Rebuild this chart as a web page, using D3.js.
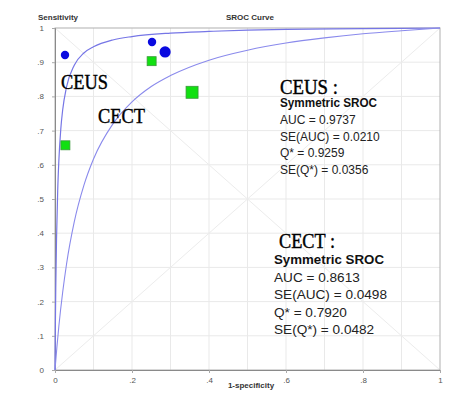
<!DOCTYPE html>
<html>
<head>
<meta charset="utf-8">
<script src="https://cdn.jsdelivr.net/npm/d3@7.9.0/dist/d3.min.js"></script>
<style>
  body { margin: 0; background: #fff; }
  svg { display: block; font-family: Arial, "Liberation Sans", sans-serif; }
</style>
</head>
<body>
<svg id="chart" width="469" height="396"></svg>
<script>
// study points (1-specificity, sensitivity, relative weight)
const ceusFpr = [0.026, 0.252, 0.286];
const ceusSens = [0.921, 0.959, 0.930];
const ceusWeight = [1, 1, 2];

const cectFpr = [0.027, 0.251, 0.356];
const cectSens = [0.657, 0.903, 0.812];
const cectWeight = [1, 1, 1.6];

// SROC curves
const ceusCurveX = [0, 0.001, 0.002, 0.004, 0.007, 0.01, 0.015, 0.02, 0.03, 0.05, 0.075, 0.1, 0.15, 0.2, 0.3, 0.4, 0.5, 0.6, 0.8, 1];
const ceusCurveY = [0, 0.135, 0.238, 0.385, 0.524, 0.612, 0.704, 0.761, 0.828, 0.891, 0.927, 0.945, 0.965, 0.975, 0.985, 0.990, 0.994, 0.996, 0.998, 1];
const cectCurveX = [0, 0.001, 0.005, 0.01, 0.02, 0.03, 0.05, 0.075, 0.1, 0.15, 0.2, 0.25, 0.3, 0.4, 0.5, 0.6, 0.7, 0.8, 0.9, 1];
const cectCurveY = [0, 0.014, 0.068, 0.128, 0.228, 0.310, 0.433, 0.540, 0.617, 0.719, 0.784, 0.829, 0.861, 0.906, 0.935, 0.956, 0.971, 0.983, 0.992, 1];

const yTicks = [0, 0.1, 0.2, 0.3, 0.4, 0.5, 0.6, 0.7, 0.8, 0.9, 1];
const yTickLabels = ['0', '.1', '.2', '.3', '.4', '.5', '.6', '.7', '.8', '.9', '1'];
const xTicks = [0, 0.2, 0.4, 0.6, 0.8, 1];
const xTickLabels = ['0', '.2', '.4', '.6', '.8', '1'];
const gridVals = [0.1, 0.2, 0.3, 0.4, 0.5, 0.6, 0.7, 0.8, 0.9];

const ceusStats = ['Symmetric SROC', 'AUC = 0.9737', 'SE(AUC) = 0.0210', 'Q* = 0.9259', 'SE(Q*) = 0.0356'];
const cectStats = ['Symmetric SROC', 'AUC = 0.8613', 'SE(AUC) = 0.0498', 'Q* = 0.7920', 'SE(Q*) = 0.0482'];

const svg = d3.select('#chart');
const plotL = 55, plotR = 440, plotT = 28, plotB = 370;

const x = d3.scaleLinear().domain([0, 1]).range([plotL, plotR]);
const y = d3.scaleLinear().domain([0, 1]).range([plotB, plotT]);

// grid
const grid = svg.append('g').attr('stroke', '#e9e9e9').attr('stroke-width', 1);
grid.selectAll('.gx').data(gridVals).enter().append('line')
  .attr('x1', d => x(d)).attr('x2', d => x(d)).attr('y1', plotT).attr('y2', plotB);
grid.selectAll('.gy').data(gridVals).enter().append('line')
  .attr('y1', d => y(d)).attr('y2', d => y(d)).attr('x1', plotL).attr('x2', plotR);

// diagonals
svg.append('line').attr('x1', x(0)).attr('y1', y(0)).attr('x2', x(1)).attr('y2', y(1))
  .attr('stroke', '#ececec');
svg.append('line').attr('x1', x(0)).attr('y1', y(1)).attr('x2', x(1)).attr('y2', y(0))
  .attr('stroke', '#ececec');

// frame
svg.append('rect').attr('x', plotL).attr('y', plotT).attr('width', plotR - plotL).attr('height', plotB - plotT)
  .attr('fill', 'none').attr('stroke', '#b0b0b0');

// axes
const yAxis = svg.append('g').attr('transform', `translate(${plotL},0)`)
  .call(d3.axisLeft(y).tickValues(yTicks).tickFormat((d, i) => yTickLabels[i]).tickSize(3).tickPadding(8));
const xAxis = svg.append('g').attr('transform', `translate(0,${plotB})`)
  .call(d3.axisBottom(x).tickValues(xTicks).tickFormat((d, i) => xTickLabels[i]).tickSize(3).tickPadding(4));
[yAxis, xAxis].forEach(a => {
  a.select('.domain').attr('stroke', '#8a8a8a');
  a.selectAll('.tick line').attr('stroke', '#aaa');
  a.selectAll('.tick text').attr('fill', '#555').attr('font-size', 8).attr('font-family', 'Arial, sans-serif');
});

// curves
const line = d3.line().x(d => x(d[0])).y(d => y(d[1])).curve(d3.curveMonotoneX);
svg.append('path').datum(ceusCurveX.map((v, i) => [v, ceusCurveY[i]]))
  .attr('d', line).attr('fill', 'none').attr('stroke', '#7676e6').attr('stroke-width', 1.2);
svg.append('path').datum(cectCurveX.map((v, i) => [v, cectCurveY[i]]))
  .attr('d', line).attr('fill', 'none').attr('stroke', '#8a8aec').attr('stroke-width', 1.1);

// markers
const rScale = d3.scaleLinear().domain([1, 2]).range([4.2, 5.6]);
const sScale = d3.scaleLinear().domain([1, 2]).range([9, 14]);

svg.selectAll('.ceus').data(ceusFpr.map((v, i) => ({ fx: v, sy: ceusSens[i], w: ceusWeight[i] })))
  .enter().append('circle')
  .attr('cx', d => x(d.fx)).attr('cy', d => y(d.sy)).attr('r', d => rScale(d.w))
  .attr('fill', '#0a0ae0');

svg.selectAll('.cect').data(cectFpr.map((v, i) => ({ fx: v, sy: cectSens[i], w: cectWeight[i] })))
  .enter().append('rect')
  .attr('x', d => x(d.fx) - sScale(d.w) / 2).attr('y', d => y(d.sy) - sScale(d.w) / 2)
  .attr('width', d => sScale(d.w)).attr('height', d => sScale(d.w))
  .attr('fill', '#11e011').attr('stroke', '#3a9a3a').attr('stroke-width', 0.8);

// titles
svg.append('text').attr('x', 38).attr('y', 20).attr('font-size', 8).attr('font-weight', 'bold')
  .attr('fill', '#333').text('Sensitivity');
svg.append('text').attr('x', 250).attr('y', 20).attr('font-size', 8).attr('font-weight', 'bold')
  .attr('fill', '#333').attr('text-anchor', 'middle').text('SROC Curve');
svg.append('text').attr('x', 251).attr('y', 388).attr('font-size', 8).attr('font-weight', 'bold')
  .attr('fill', '#333').attr('text-anchor', 'middle').text('1-specificity');

// serif labels
function serifLabel(txt, px, py, w) {
  svg.append('text').attr('transform', `translate(${px},${py}) scale(1,1.22)`)
    .attr('font-family', '"Liberation Serif", "DejaVu Serif", serif').attr('font-size', 18)
    .attr('textLength', w).attr('lengthAdjust', 'spacingAndGlyphs')
    .attr('fill', '#000').attr('stroke', '#000').attr('stroke-width', 0.35).text(txt);
}
serifLabel('CEUS', 61, 89, 47);
serifLabel('CECT', 98, 123, 47);
serifLabel('CEUS :', 280, 94, 58);
serifLabel('CECT :', 279, 248, 56);

function statBlock(lines, px, py0, dy, fs, boldW) {
  lines.forEach((t, i) => {
    const tx = svg.append('text').attr('x', px).attr('y', py0 + i * dy)
      .attr('font-size', fs).attr('fill', '#222').text(t);
    if (i === 0) tx.attr('font-weight', 'bold').attr('fill', '#111')
      .attr('textLength', boldW).attr('lengthAdjust', 'spacingAndGlyphs');
  });
}
statBlock(ceusStats, 280, 107, 16.8, 12, 97);
statBlock(cectStats, 274, 264, 17.6, 13.6, 110);
</script>
</body>
</html>
